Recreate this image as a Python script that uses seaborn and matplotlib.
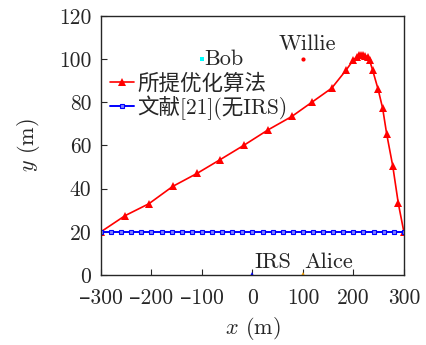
import numpy as np
import pandas as pd
import matplotlib
matplotlib.use('Agg')
import matplotlib.pyplot as plt
from matplotlib.ticker import FuncFormatter
import seaborn as sns

# trajectory of the proposed algorithm
prop_x = [-300, -252, -205, -158, -110, -64, -16, 31, 78, 119, 157, 186, 200,
          207, 212, 216, 220, 224, 228, 232, 238, 249, 258, 266, 278, 289, 300]
prop_y = [20, 27.5, 33, 41, 47, 53.4, 60.2, 67.2, 73.4, 80.2, 86.5, 95, 99.6,
          101, 101.8, 102, 102, 101.6, 100.8, 99.5, 95, 86, 77.2, 65.3, 50.5, 33.2, 20]

# reference [21] without IRS: straight flight at 20 m
ref_x = list(range(-300, 301, 20))
ref_y = [20] * len(ref_x)

# node positions
bob = (-100, 100)
willie = (100, 100)
irs = (0, 0)
alice = (100, 0)

labels = ['所提优化算法', '文献[21](无IRS)']
xticks = [-300, -200, -100, 0, 100, 200, 300]
yticks = [0, 20, 40, 60, 80, 100, 120]

sns.set_style('ticks')
plt.rcParams['font.family'] = ['cmr10', 'Noto Sans CJK SC']
plt.rcParams['mathtext.fontset'] = 'cm'
plt.rcParams['xtick.direction'] = 'in'
plt.rcParams['ytick.direction'] = 'in'

fig, ax = plt.subplots(figsize=(4.26, 3.45), dpi=100)
fig.subplots_adjust(left=0.237, right=0.948, top=0.954, bottom=0.203)

df_p = pd.DataFrame({'x': prop_x, 'y': prop_y})
df_r = pd.DataFrame({'x': ref_x, 'y': ref_y})

sns.lineplot(data=df_p, x='x', y='y', ax=ax, color='red', lw=1.2, marker='^',
             markersize=6, markeredgewidth=0, sort=False, label=labels[0])
sns.lineplot(data=df_r, x='x', y='y', ax=ax, color='blue', lw=1.4, marker='s',
             markersize=3.5, markerfacecolor='#8080ff', markeredgecolor='blue',
             markeredgewidth=0.8, sort=False, label=labels[1])

ax.plot(*bob, 's', color='cyan', ms=3, mew=0)
ax.plot(*willie, 'o', color='red', ms=3, mew=0)
ax.plot(*irs, '^', color='blue', ms=4, mew=0)
ax.plot(*alice, '^', color='orange', ms=4, mew=0)

fs = 16
ax.text(bob[0] + 5, bob[1], 'Bob', fontsize=fs, va='center', ha='left')
ax.text(willie[0] + 8, willie[1] + 7, 'Willie', fontsize=fs, va='center', ha='center')
ax.text(irs[0] + 3, irs[1] + 6, 'IRS', fontsize=fs, va='center', ha='left')
ax.text(alice[0] + 3, alice[1] + 6, 'Alice', fontsize=fs, va='center', ha='left')

ax.set_xlim(-300, 300)
ax.set_ylim(0, 120)
ax.set_xticks(xticks)
ax.set_yticks(yticks)
ax.xaxis.set_major_formatter(FuncFormatter(lambda v, p: f'{int(v)}'.replace('-', '\u2013')))
ax.tick_params(labelsize=15.5, length=4, width=0.8)
ax.tick_params(axis='x', pad=10)
ax.tick_params(axis='y', pad=7)
ax.set_xlabel(r'$x$ (m)', fontsize=fs, labelpad=5)
ax.set_ylabel(r'$y$ (m)', fontsize=fs, labelpad=12)
for s in ax.spines.values():
    s.set_linewidth(1.0)

ax.legend(loc='upper left', bbox_to_anchor=(0.03, 0.78), frameon=False,
          fontsize=15.5, borderpad=0, handlelength=1.1, handletextpad=0.15,
          labelspacing=0.1, borderaxespad=0)

fig.savefig('out.png', dpi=100)
